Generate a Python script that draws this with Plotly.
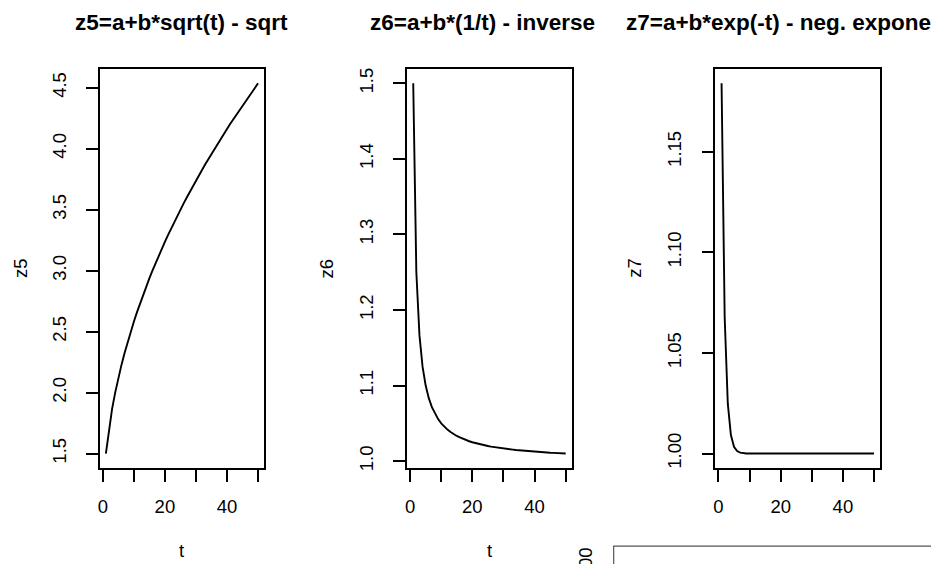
import plotly.graph_objects as go

t = list(range(1, 51))

z5 = [1.5, 1.707, 1.866, 2.0, 2.118, 2.225, 2.323, 2.414, 2.5, 2.581,
      2.658, 2.732, 2.803, 2.871, 2.936, 3.0, 3.062, 3.121, 3.179, 3.236,
      3.291, 3.345, 3.398, 3.449, 3.5, 3.550, 3.598, 3.646, 3.693, 3.739,
      3.784, 3.828, 3.872, 3.915, 3.958, 4.0, 4.041, 4.082, 4.122, 4.162,
      4.202, 4.240, 4.279, 4.317, 4.354, 4.391, 4.428, 4.464, 4.5, 4.536]

z6 = [1.5, 1.25, 1.1667, 1.125, 1.1, 1.0833, 1.0714, 1.0625, 1.0556, 1.05,
      1.0455, 1.0417, 1.0385, 1.0357, 1.0333, 1.0313, 1.0294, 1.0278, 1.0263, 1.025,
      1.0238, 1.0227, 1.0217, 1.0208, 1.02, 1.0192, 1.0185, 1.0179, 1.0172, 1.0167,
      1.0161, 1.0156, 1.0152, 1.0147, 1.0143, 1.0139, 1.0135, 1.0132, 1.0128, 1.0125,
      1.0122, 1.0119, 1.0116, 1.0114, 1.0111, 1.0109, 1.0106, 1.0104, 1.0102, 1.01]

z7 = [1.18394, 1.06767, 1.02489, 1.00916, 1.00337, 1.00124, 1.00046, 1.00017, 1.00006, 1.00002,
      1.00001, 1.0, 1.0, 1.0, 1.0, 1.0, 1.0, 1.0, 1.0, 1.0,
      1.0, 1.0, 1.0, 1.0, 1.0, 1.0, 1.0, 1.0, 1.0, 1.0,
      1.0, 1.0, 1.0, 1.0, 1.0, 1.0, 1.0, 1.0, 1.0, 1.0,
      1.0, 1.0, 1.0, 1.0, 1.0, 1.0, 1.0, 1.0, 1.0, 1.0]

titles = ["z5=a+b*sqrt(t) - sqrt", "z6=a+b*(1/t) - inverse", "z7=a+b*exp(-t) - neg. exponential"]
ylabels = ["z5", "z6", "z7"]
xlabel = "t"

x_tickvals = [0, 10, 20, 30, 40, 50]
x_ticktext = ["0", "", "20", "", "40", ""]

y5_tickvals = [1.5, 2.0, 2.5, 3.0, 3.5, 4.0, 4.5]
y5_ticktext = ["1.5", "2.0", "2.5", "3.0", "3.5", "4.0", "4.5"]
y6_tickvals = [1.0, 1.1, 1.2, 1.3, 1.4, 1.5]
y6_ticktext = ["1.0", "1.1", "1.2", "1.3", "1.4", "1.5"]
y7_tickvals = [1.0, 1.05, 1.10, 1.15]
y7_ticktext = ["1.00", "1.05", "1.10", "1.15"]

W, H = 931, 564
FONT = "Liberation Sans, Arial, Helvetica, sans-serif"

# panel boxes in pixels (left, right)
boxes = [(98, 262.7), (406, 571), (715, 880)]
top_px, bot_px = 68, 470.7


def pad(lo, hi):
    d = (hi - lo) * 0.04
    return [lo - d, hi + d]


fig = go.Figure()
series = [z5, z6, z7]
yticks = [(y5_tickvals, y5_ticktext), (y6_tickvals, y6_ticktext), (y7_tickvals, y7_ticktext)]

for i, (ys, (tv, tt)) in enumerate(zip(series, yticks)):
    n = "" if i == 0 else str(i + 1)
    fig.add_trace(go.Scatter(x=t, y=ys, mode="lines",
                             line=dict(color="black", width=1.9),
                             xaxis="x" + n, yaxis="y" + n, showlegend=False,
                             hoverinfo="skip"))
    l, r = boxes[i]
    common = dict(showline=True, mirror=True, linecolor="black", linewidth=1.5,
                  ticks="outside", ticklen=12, tickwidth=1.5, tickcolor="black",
                  showgrid=False, zeroline=False,
                  tickfont=dict(family=FONT, size=18.5, color="black"))
    fig.layout["xaxis" + n] = dict(domain=[l / W, r / W], anchor="y" + n,
                                   range=pad(min(t), max(t)),
                                   tickvals=x_tickvals, ticktext=x_ticktext,
                                   ticklabelstandoff=9, **common)
    fig.layout["yaxis" + n] = dict(domain=[1 - bot_px / H, 1 - top_px / H], anchor="x" + n,
                                   range=pad(min(ys), max(ys)),
                                   tickvals=tv, ticktext=tt, tickangle=-90,
                                   ticklabelstandoff=13, **common)

title_x = [180, 482, 801]
ylab_x = [18, 325, 633]
ann = []
for i in range(3):
    ann.append(dict(text="<b>" + titles[i] + "</b>", x=title_x[i] / W, y=1 - 22 / H,
                    xref="paper", yref="paper", xanchor="center", yanchor="middle",
                    showarrow=False, font=dict(family=FONT, size=22.5, color="black")))
    ann.append(dict(text=ylabels[i], x=ylab_x[i] / W, y=1 - 269 / H, textangle=-90,
                    xref="paper", yref="paper", xanchor="center", yanchor="middle",
                    showarrow=False, font=dict(family=FONT, size=18.5, color="black")))
for i in range(2):
    l, r = boxes[i]
    ann.append(dict(text=xlabel, x=(l + r) / 2 / W, y=1 - 553 / H,
                    xref="paper", yref="paper", xanchor="center", yanchor="middle",
                    showarrow=False, font=dict(family=FONT, size=18.5, color="black")))
# partially visible next panel (bottom right)
ann.append(dict(text="100", x=585 / W, y=1 - 548 / H, textangle=-90,
                xref="paper", yref="paper", xanchor="center", yanchor="top",
                showarrow=False, font=dict(family=FONT, size=18.5, color="black")))

fig.update_layout(
    width=W, height=H, margin=dict(l=0, r=0, t=0, b=0),
    paper_bgcolor="white", plot_bgcolor="white",
    annotations=ann,
    shapes=[dict(type="rect", xref="paper", yref="paper",
                 x0=613 / W, x1=1.05, y0=-0.2, y1=1 - 549 / H,
                 line=dict(color="#555", width=1.2), fillcolor="rgba(0,0,0,0)")],
)

fig.write_html("out.html", config={"displayModeBar": False},
               post_script="document.body.style.margin='0';document.body.style.overflow='hidden';")
